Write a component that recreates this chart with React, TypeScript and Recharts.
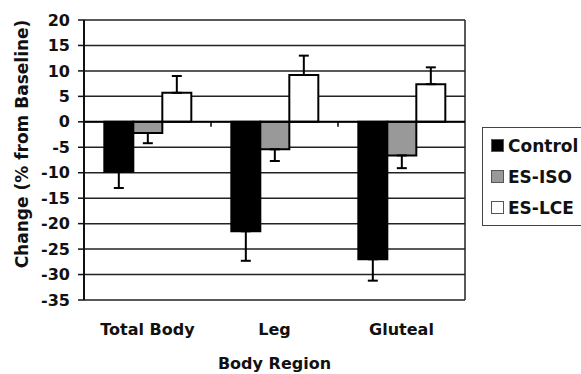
import React from 'react';
import { BarChart, Bar, XAxis, YAxis, CartesianGrid, ErrorBar, ReferenceLine, Label } from 'recharts';

const categories = ['Total Body', 'Leg', 'Gluteal'];
const control = [-9.8, -21.5, -27.0];
const controlErr = [3.2, 5.8, 4.2];
const esIso = [-2.2, -5.4, -6.6];
const esIsoErr = [2.0, 2.3, 2.5];
const esLce = [5.7, 9.2, 7.4];
const esLceErr = [3.3, 3.8, 3.3];
const yTicks = [20, 15, 10, 5, 0, -5, -10, -15, -20, -25, -30, -35];

const seriesInfo = [
  { key: 'control', name: 'Control', fill: '#000000' },
  { key: 'esIso', name: 'ES-ISO', fill: '#999999' },
  { key: 'esLce', name: 'ES-LCE', fill: '#ffffff' },
];

// error bars point away from zero only: [below, above]
const oneSided = (v: number, e: number) => (v < 0 ? [e, 0] : [0, e]);

const data = categories.map((name, i) => ({
  name,
  control: control[i],
  controlErr: oneSided(control[i], controlErr[i]),
  esIso: esIso[i],
  esIsoErr: oneSided(esIso[i], esIsoErr[i]),
  esLce: esLce[i],
  esLceErr: oneSided(esLce[i], esLceErr[i]),
}));

const FONT = '"DejaVu Sans", Arial, sans-serif';

const CategoryTick = ({ x, y, payload }: any) => (
  <text x={x} y={y + 35} textAnchor="middle" fontFamily={FONT} fontWeight="bold" fontSize={16} fill="#111">
    {payload.value}
  </text>
);

// zero line with small tick marks between the groups
const ZeroLine = (props: any) => {
  const { x1, y1, x2 } = props;
  const step = (x2 - x1) / categories.length;
  const marks = categories.slice(1).map((_, i) => x1 + step * (i + 1));
  return (
    <g>
      <line x1={x1} y1={y1} x2={x2} y2={y1} stroke="#000" strokeWidth={2} />
      {marks.map((mx) => (
        <line key={mx} x1={mx} y1={y1} x2={mx} y2={y1 + 5} stroke="#000" strokeWidth={1.5} />
      ))}
    </g>
  );
};

const LegendBox = () => (
  <div
    style={{
      position: 'absolute',
      left: 482,
      top: 127,
      border: '1.5px solid #444',
      width: 110,
      padding: '2px 0 2px 8px',
      background: '#fff',
      fontFamily: FONT,
      fontWeight: 'bold',
      fontSize: 17,
      color: '#111',
    }}
  >
    {seriesInfo.map((s) => (
      <div key={s.key} style={{ height: 31, display: 'flex', alignItems: 'center' }}>
        <span
          style={{
            display: 'inline-block',
            width: 11,
            height: 11,
            background: s.fill,
            border: '1px solid #555',
            marginRight: 4,
          }}
        />
        {s.name}
      </div>
    ))}
  </div>
);

const App = () => {
  return (
    <div style={{ position: 'absolute', left: 0, top: 0, width: 581, height: 374, overflow: 'hidden', background: '#fff' }}>
      <BarChart
        width={581}
        height={374}
        data={data}
        margin={{ top: 20, right: 116, bottom: 0, left: 0 }}
        barCategoryGap="16%"
        barGap={0}
      >
        <CartesianGrid
          stroke="#222"
          strokeWidth={1.5}
          verticalCoordinatesGenerator={({ offset }: any) => [offset.left + offset.width]}
        />
        <XAxis
          dataKey="name"
          axisLine={false}
          tickLine={false}
          tickSize={0}
          tickMargin={0}
          height={74}
          tick={<CategoryTick />}
        >
          <Label
            content={({ viewBox }: any) => (
              <text
                x={viewBox.x + viewBox.width / 2}
                y={viewBox.y + 69}
                textAnchor="middle"
                fontFamily={FONT}
                fontWeight="bold"
                fontSize={16}
                fill="#111"
              >
                Body Region
              </text>
            )}
          />
        </XAxis>
        <YAxis
          width={84}
          domain={[-35, 20]}
          ticks={yTicks}
          interval={0}
          allowDataOverflow
          axisLine={{ stroke: '#111', strokeWidth: 2 }}
          tickLine={{ stroke: '#111', strokeWidth: 1.5 }}
          tickSize={6}
          tickMargin={8}
          tick={{ fontFamily: FONT, fontWeight: 'bold', fontSize: 16, fill: '#111' }}
        >
          <Label
            content={() => (
              <text
                transform="translate(28, 144) rotate(-90)"
                textAnchor="middle"
                fontFamily={FONT}
                fontWeight="bold"
                fontSize={17}
                fill="#111"
              >
                Change (% from Baseline)
              </text>
            )}
          />
        </YAxis>
        {seriesInfo.map((s) => (
          <Bar
            key={s.key}
            dataKey={s.key}
            name={s.name}
            fill={s.fill}
            stroke="#000"
            strokeWidth={2}
            isAnimationActive={false}
          >
            <ErrorBar dataKey={`${s.key}Err`} direction="y" width={5} stroke="#000" strokeWidth={2} />
          </Bar>
        ))}
        <ReferenceLine y={0} shape={<ZeroLine />} />
      </BarChart>
      <LegendBox />
    </div>
  );
};

export default App;
